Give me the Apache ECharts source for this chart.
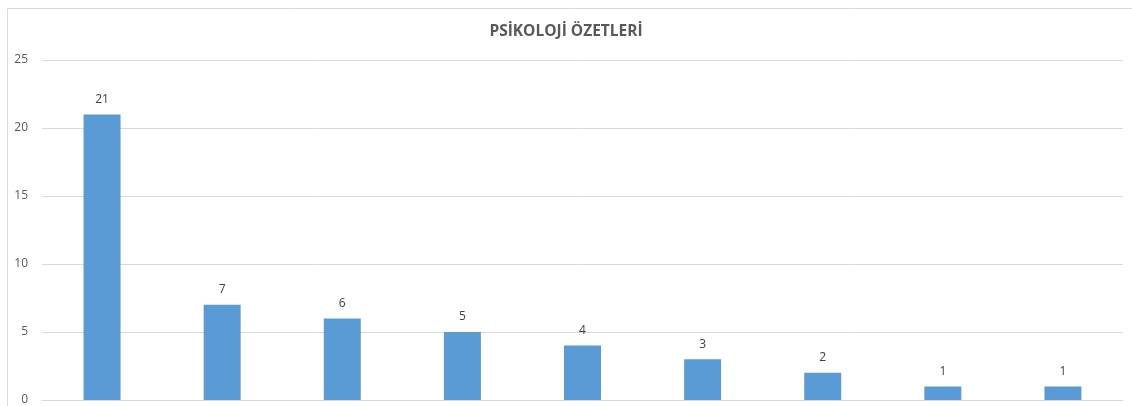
<!DOCTYPE html>
<html>
<head>
<meta charset="utf-8">
<script src="https://cdn.jsdelivr.net/npm/echarts@6/dist/echarts.min.js"></script>
<style>html,body{margin:0;padding:0;background:#fff;}#c{width:1132px;height:406px;}</style>
</head>
<body>
<div id="c"></div>
<script>
const titleText = "PSİKOLOJİ ÖZETLERİ";
const categories = ["K1","K2","K3","K4","K5","K6","K7","K8","K9"];
const values = [21, 7, 6, 5, 4, 3, 2, 1, 1];
const yTicks = { min: 0, max: 25, interval: 5 };

const chart = echarts.init(document.getElementById('c'), null, {renderer: 'canvas'});
chart.setOption({
  animation: false,
  backgroundColor: '#ffffff',
  textStyle: { fontFamily: 'Open Sans' },
  title: {
    text: titleText, left: 'center', top: 19,
    textStyle: { fontSize: 15.5, fontWeight: 'bold', color: '#595959', fontFamily: 'Open Sans' }
  },
  graphic: [{
    type: 'rect', left: 5, top: 6, z: -1,
    shape: { width: 1140, height: 420 },
    style: { fill: 'none', stroke: '#d9d9d9', lineWidth: 1 }
  }],
  grid: { left: 42, right: 9, top: 60, bottom: 5, containLabel: false },
  xAxis: {
    type: 'category', data: categories,
    axisLine: { show: true, lineStyle: { color: '#d9d9d9' } },
    axisTick: { show: false },
    axisLabel: { show: false }
  },
  yAxis: {
    type: 'value', min: yTicks.min, max: yTicks.max, interval: yTicks.interval,
    axisLine: { show: false }, axisTick: { show: false },
    axisLabel: { color: '#595959', fontSize: 12, margin: 14 },
    splitLine: { lineStyle: { color: '#d9d9d9' } }
  },
  series: [{
    type: 'bar', data: values, barWidth: 37,
    itemStyle: { color: '#5b9bd5' },
    label: { show: true, position: 'top', distance: 9, color: '#404040', fontSize: 12 }
  }]
});
</script>
</body>
</html>
